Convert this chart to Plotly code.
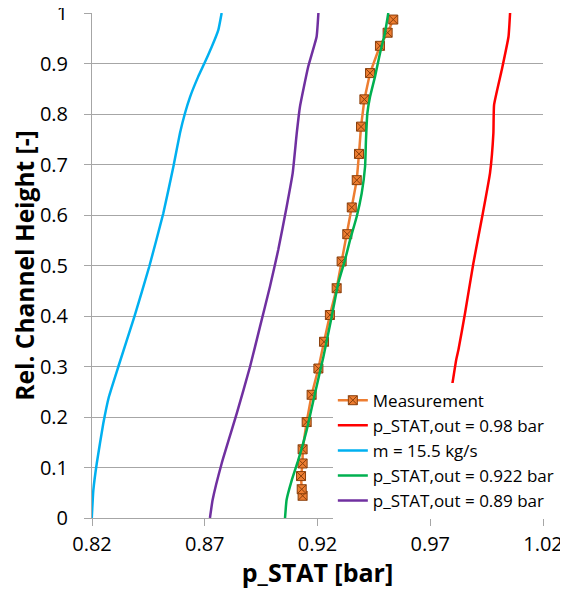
import plotly.graph_objects as go

# ---- data ----
meas_h = [0.044, 0.057, 0.083, 0.108, 0.136, 0.190, 0.244, 0.296, 0.349, 0.402, 0.455,
          0.508, 0.562, 0.615, 0.669, 0.721, 0.775, 0.829, 0.881, 0.935, 0.961, 0.987]
meas_p = [0.9134, 0.9130, 0.9127, 0.9134, 0.9134, 0.9152, 0.9174, 0.9204, 0.9229, 0.9255, 0.9285,
          0.9307, 0.9332, 0.9352, 0.9374, 0.9384, 0.9393, 0.9408, 0.9433, 0.9477, 0.9511, 0.9536]

red_h = [0.0, 0.03, 0.1, 0.2, 0.257, 0.313, 0.333, 0.405, 0.504, 0.603, 0.683, 0.762, 0.818, 0.887, 0.953, 1.0]
red_p = [0.9670, 0.9677, 0.9728, 0.9775, 0.9795, 0.9815, 0.9825, 0.9854, 0.9891, 0.9933, 0.9965, 0.9980, 0.9983, 1.0017, 1.0047, 1.0054]

blue_h = [0.0, 0.055, 0.108, 0.187, 0.240, 0.300, 0.399, 0.498, 0.603, 0.696, 0.762, 0.801, 0.834, 0.874, 0.900, 0.933, 0.966, 1.0]
blue_p = [0.8199, 0.8206, 0.8221, 0.8250, 0.8275, 0.8317, 0.8388, 0.8454, 0.8516, 0.8561, 0.8590, 0.8612, 0.8635, 0.8671, 0.8698, 0.8731, 0.8760, 0.8775]

green_h = [0.0, 0.036, 0.075, 0.115, 0.174, 0.247, 0.319, 0.399, 0.465, 0.511, 0.550, 0.597, 0.643, 0.696, 0.749, 0.801, 0.834, 0.874, 0.920, 0.960, 1.0]
green_p = [0.9056, 0.9063, 0.9086, 0.9115, 0.9152, 0.9189, 0.9226, 0.9263, 0.9292, 0.9322, 0.9344, 0.9374, 0.9396, 0.9411, 0.9415, 0.9421, 0.9433, 0.9455, 0.9477, 0.9499, 0.9514]

purple_h = [0.0, 0.036, 0.108, 0.207, 0.300, 0.379, 0.458, 0.531, 0.616, 0.683, 0.762, 0.814, 0.894, 0.953, 1.0]
purple_p = [0.8723, 0.8735, 0.8775, 0.8842, 0.8901, 0.8945, 0.8989, 0.9026, 0.9063, 0.9090, 0.9108, 0.9122, 0.9159, 0.9196, 0.9204]

names = ["Measurement", "p_STAT,out = 0.98 bar", "m = 15.5 kg/s", "p_STAT,out = 0.922 bar", "p_STAT,out = 0.89 bar"]
x_ticks = [0.82, 0.87, 0.92, 0.97, 1.02]
y_ticks = [0, 0.1, 0.2, 0.3, 0.4, 0.5, 0.6, 0.7, 0.8, 0.9, 1]

FONT = "Open Sans"
GRID = "#A6A6A6"

fig = go.Figure()
fig.add_trace(go.Scatter(
    x=meas_p, y=meas_h, name=names[0], mode="lines+markers",
    line=dict(color="#ED7D31", width=2.5),
    marker=dict(symbol="square-x", size=9, color="#ED7D31", line=dict(color="#8a3f0c", width=1)),
))
fig.add_trace(go.Scatter(x=red_p, y=red_h, name=names[1], mode="lines",
                         line=dict(color="#FF0000", width=2.5, shape="spline", smoothing=0.4)))
fig.add_trace(go.Scatter(x=blue_p, y=blue_h, name=names[2], mode="lines",
                         line=dict(color="#00B0F0", width=2.5, shape="spline", smoothing=0.4)))
fig.add_trace(go.Scatter(x=green_p, y=green_h, name=names[3], mode="lines",
                         line=dict(color="#00B050", width=2.5, shape="spline", smoothing=0.4)))
fig.add_trace(go.Scatter(x=purple_p, y=purple_h, name=names[4], mode="lines",
                         line=dict(color="#7030A0", width=2.5, shape="spline", smoothing=0.4)))

# page body has an 8px default margin (left/top), so the figure is 8px smaller
fig.update_layout(
    width=560, height=581,
    margin=dict(l=84, r=25, t=5, b=71),
    paper_bgcolor="white", plot_bgcolor="white",
    font=dict(family=FONT, color="#000000", size=18),
    showlegend=True,
    legend=dict(
        x=0.534, y=0.268, xanchor="left", yanchor="top",
        bgcolor="white", borderwidth=0,
        font=dict(family=FONT, size=17, color="#000000"),
        tracegroupgap=0, itemwidth=30,
    ),
    xaxis=dict(
        range=[0.82, 1.02], tickvals=x_ticks, ticktext=[f"{v:.2f}" for v in x_ticks],
        showgrid=False, zeroline=False, automargin=False, ticklabeloverflow="allow",
        showline=True, linecolor=GRID, linewidth=1,
        ticks="outside", ticklen=7, tickcolor=GRID,
        ticklabelstandoff=1,
        tickfont=dict(family=FONT, size=20),
        title=dict(text="<b>p_STAT [bar]</b>", font=dict(family=FONT, size=25), standoff=6),
    ),
    yaxis=dict(
        range=[0, 1], tickvals=y_ticks, ticktext=[("0" if v == 0 else ("1" if v == 1 else f"{v:.1f}")) for v in y_ticks],
        showgrid=True, gridcolor=GRID, gridwidth=1,
        zeroline=False, automargin=False, ticklabeloverflow="allow",
        showline=True, linecolor=GRID, linewidth=1,
        ticks="outside", ticklen=7, tickcolor=GRID,
        ticklabelstandoff=12,
        tickfont=dict(family=FONT, size=20),
        title=dict(text="<b>Rel. Channel Height [-]</b>", font=dict(family=FONT, size=24.5), standoff=2),
    ),
)

fig.write_html("out.html", config={"displayModeBar": False})
